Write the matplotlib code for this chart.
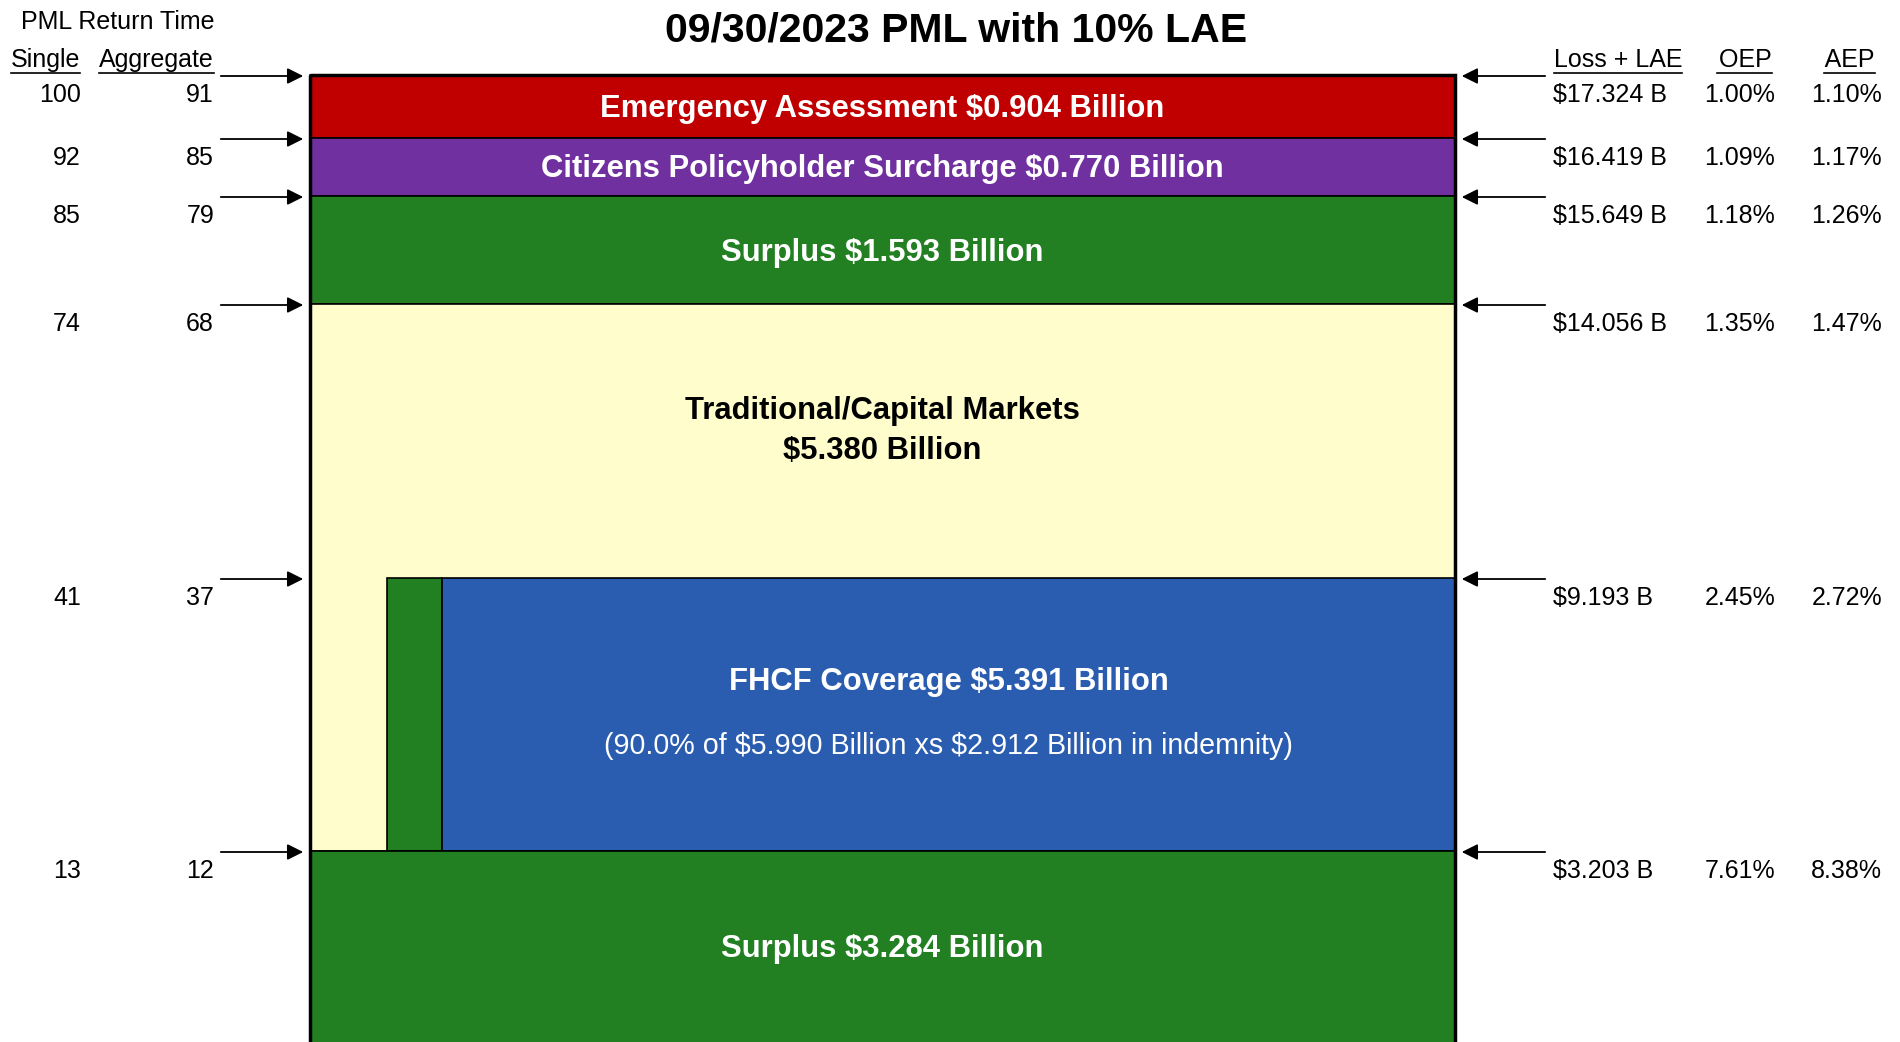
import matplotlib.pyplot as plt
from matplotlib.patches import Rectangle

plt.rcParams['font.family'] = ['Liberation Sans', 'DejaVu Sans']
plt.rcParams['text.parse_math'] = False

# PML return times and loss levels at each layer attachment (top to bottom)
single_rt = [100, 92, 85, 74, 41, 13]
aggregate_rt = [91, 85, 79, 68, 37, 12]
loss_lae = [17.324, 16.419, 15.649, 14.056, 9.193, 3.203]
oep = [1.00, 1.09, 1.18, 1.35, 2.45, 7.61]
aep = [1.10, 1.17, 1.26, 1.47, 2.72, 8.38]

# layer amounts in $ billion
emergency_amt = 0.904
citizens_amt = 0.770
surplus_top_amt = 1.593
trad_amt = 5.380
fhcf_amt = 5.391
surplus_bottom_amt = 3.284
fhcf_pct = 90.0
fhcf_limit = 5.990
fhcf_retention = 2.912

# schematic layout (tower is not to scale), in figure pixels
W, H = 1900, 1042
levels = [75, 138, 196, 304, 578, 851, 1045]
x0, x1 = 310, 1455
col_l, col_r = 387, 442

fig = plt.figure(figsize=(19, 10.42), dpi=100)
ax = fig.add_axes([0, 0, 1, 1])
ax.set_xlim(0, W)
ax.set_ylim(H, 0)
ax.axis('off')

red, purple, green = '#C00000', '#7030A0', '#228022'
yellow, blue = '#FFFDCC', '#2A5DB0'


def rect(xa, xb, ya, yb, color, lw=1.2):
    ax.add_patch(Rectangle((xa, ya), xb - xa, yb - ya, facecolor=color,
                           edgecolor='black', lw=lw))


rect(x0, x1, levels[0], levels[1], red)
rect(x0, x1, levels[1], levels[2], purple)
rect(x0, x1, levels[2], levels[3], green)
rect(x0, x1, levels[3], levels[5], yellow)
rect(col_l, col_r, levels[4], levels[5], green)
rect(col_r, x1, levels[4], levels[5], blue)
rect(x0, x1, levels[5], levels[6], green)
ax.add_patch(Rectangle((x0, levels[0]), x1 - x0, levels[6] - levels[0],
                       fill=False, edgecolor='black', lw=2.5))

cx = (x0 + x1) / 2
lbl = dict(ha='center', va='center', fontsize=22.3, fontweight='bold')
ax.text(cx, (levels[0] + levels[1]) / 2 + 3,
        f'Emergency Assessment ${emergency_amt:.3f} Billion', color='white', **lbl)
ax.text(cx, (levels[1] + levels[2]) / 2 + 2,
        f'Citizens Policyholder Surcharge ${citizens_amt:.3f} Billion', color='white', **lbl)
ax.text(cx, (levels[2] + levels[3]) / 2 + 3,
        f'Surplus ${surplus_top_amt:.3f} Billion', color='white', **lbl)
ax.text(cx, 431, f'Traditional/Capital Markets\n${trad_amt:.3f} Billion',
        color='black', linespacing=1.45, **lbl)
fx = (col_r + x1) / 2
ax.text(fx, 682, f'FHCF Coverage ${fhcf_amt:.3f} Billion', color='white', **lbl)
ax.text(fx, 746, f'({fhcf_pct:.1f}% of ${fhcf_limit:.3f} Billion xs '
        f'${fhcf_retention:.3f} Billion in indemnity)',
        color='white', ha='center', va='center', fontsize=20.6)
ax.text(cx, 949, f'Surplus ${surplus_bottom_amt:.3f} Billion', color='white', **lbl)

ax.text(956, 30, '09/30/2023 PML with 10% LAE', ha='center', va='center',
        fontsize=29.5, fontweight='bold')

fs = 18
ax.text(118, 22, 'PML Return Time', ha='center', va='center', fontsize=fs)
underlined = [
    ax.text(80, 60, 'Single', ha='right', va='center', fontsize=fs),
    ax.text(214, 60, 'Aggregate', ha='right', va='center', fontsize=fs),
    ax.text(1618, 60, 'Loss + LAE', ha='center', va='center', fontsize=fs),
    ax.text(1742, 60, ' OEP', ha='center', va='center', fontsize=fs),
    ax.text(1847, 60, ' AEP', ha='center', va='center', fontsize=fs),
]

arrow = dict(arrowstyle='-|>', color='black', lw=1.3, mutation_scale=24)
for i, lv in enumerate(levels[:6]):
    ty = lv + 20
    ax.text(81, ty, f'{single_rt[i]}', ha='right', va='center', fontsize=fs)
    ax.text(214, ty, f'{aggregate_rt[i]}', ha='right', va='center', fontsize=fs)
    ax.text(1553, ty, f'${loss_lae[i]:.3f} B', ha='left', va='center', fontsize=fs)
    ax.text(1775, ty, f'{oep[i]:.2f}%', ha='right', va='center', fontsize=fs)
    ax.text(1882, ty, f'{aep[i]:.2f}%', ha='right', va='center', fontsize=fs)
    ax.annotate('', xy=(306, lv + 1), xytext=(218, lv + 1), arrowprops=arrow)
    ax.annotate('', xy=(1459, lv + 1), xytext=(1548, lv + 1), arrowprops=arrow)

# underline the column headers
fig.canvas.draw()
inv = ax.transData.inverted()
for t in underlined:
    bb = t.get_window_extent()
    (xa, ya), (xb, yb) = inv.transform([[bb.x0, bb.y0], [bb.x1, bb.y1]])
    if t.get_text().startswith(' '):
        xa += (xb - xa) * 0.08
    ax.plot([xa, xb], [ya + 1, ya + 1], color='black', lw=1.2)

fig.savefig('out.png', dpi=100)
